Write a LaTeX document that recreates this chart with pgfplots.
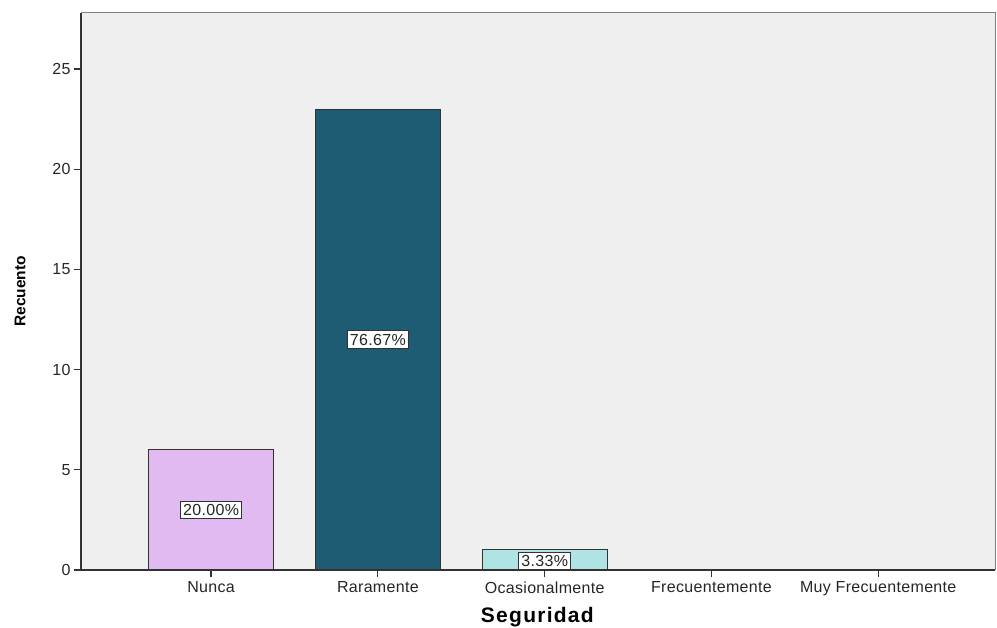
\documentclass[border=0pt]{standalone}
\usepackage{fontspec}
\setmainfont{Liberation Sans}
\usepackage{pgfplots}
\pgfplotsset{compat=1.18}
\definecolor{bgc}{RGB}{239,239,239}
\definecolor{c1}{RGB}{224,186,240}
\definecolor{c2}{RGB}{29,92,115}
\definecolor{c3}{RGB}{176,228,228}
\definecolor{axc}{RGB}{50,50,50}
\begin{document}
\begin{tikzpicture}
\path[use as bounding box] (0,0) rectangle (997pt,628pt);
\begin{axis}[
  at={(81pt,58pt)}, anchor=south west,
  scale only axis, width=914pt, height=557pt,
  xmin=-0.78, xmax=4.70, ymin=0, ymax=27.8,
  xtick={0,1,2,3,4},
  xticklabels={Nunca,Raramente,Ocasionalmente,Frecuentemente,Muy Frecuentemente},
  ytick={0,5,10,15,20,25},
  axis x line*=bottom, axis y line*=left,
  axis line style={axc, line width=1.2pt, -},
  tick style={axc, line width=1.2pt},
  tick align=outside,
  major tick length=7pt,
  axis background/.style={fill=bgc},
  /pgf/number format/assume math mode=true,
  ticklabel style={font=\fontsize{16}{18}\selectfont\addfontfeature{LetterSpace=2}, text=black!85},
  xticklabel style={yshift=-1pt},
  xlabel={\textbf{Seguridad}},
  ylabel={\textbf{Recuento}},
  xlabel style={font=\fontsize{21}{24}\selectfont\addfontfeature{LetterSpace=6}, yshift=-5pt},
  ylabel style={font=\fontsize{15.5}{18}\selectfont, yshift=20pt},
  clip=false,
]
\draw[gray, line width=1pt] (rel axis cs:0,1) -- (rel axis cs:1,1) -- (rel axis cs:1,0);
\addplot[ybar, bar width=0.75, fill=c1, draw=axc, line width=1pt] coordinates {(0,6)};
\addplot[ybar, bar width=0.75, fill=c2, draw=axc, line width=1pt] coordinates {(1,23)};
\addplot[ybar, bar width=0.75, fill=c3, draw=axc, line width=1pt] coordinates {(2,1)};
\addplot[draw=none, mark=none, nodes near coords={\pgfplotspointmeta\%},
  point meta=explicit symbolic,
  nodes near coords style={anchor=center, fill=white, draw=axc, line width=0.9pt,
    inner xsep=2.5pt, inner ysep=3pt, font=\fontsize{16}{18}\selectfont\addfontfeature{LetterSpace=2}, text=black!85}]
  table[meta=lab] {
x y lab
0 3 20.00
1 11.5 76.67
2 0.45 3.33
};
\end{axis}
\end{tikzpicture}
\end{document}
